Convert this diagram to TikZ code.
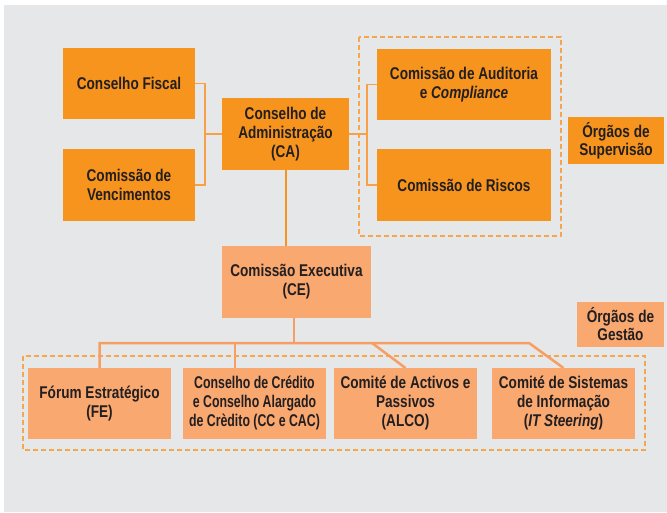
\documentclass[tikz,border=0pt]{standalone}
\usepackage{fontspec}
\setmainfont[FakeStretch=0.80]{Liberation Sans}
\newfontfamily\narrowfont[FakeStretch=0.725]{Liberation Sans}
\definecolor{bggray}{HTML}{E6E7E8}
\definecolor{darkor}{HTML}{F7941D}
\definecolor{lightor}{HTML}{F9A870}
\definecolor{lineor}{HTML}{F7A048}
\definecolor{busor}{HTML}{F79F62}
\definecolor{dashor}{HTML}{F5A64E}
\definecolor{txt}{HTML}{231F20}
\tikzset{
  dbox/.style={fill=darkor, draw=none, text=txt, align=center, inner sep=0pt,
    font=\fontsize{17}{19}\selectfont\bfseries},
  lbox/.style={fill=lightor, draw=none, text=txt, align=center, inner sep=0pt,
    font=\fontsize{17}{19}\selectfont\bfseries},
  thinline/.style={draw=lineor, line width=1.1pt},
  caline/.style={draw=darkor, line width=1.5pt},
  busline/.style={draw=busor, line width=2.5pt},
  groupbox/.style={draw=dashor, line width=1.3pt, dash pattern=on 5pt off 3pt}
}
\begin{document}
\begin{tikzpicture}[x=1pt,y=-1pt]
\useasboundingbox (0,0) rectangle (667,512);
\fill[white] (0,0) rectangle (667,512);
\fill[bggray] (4,5) rectangle (667,512);

% group boxes
\draw[groupbox] (359,37) rectangle (561,236);
\draw[groupbox] (23,356) rectangle (645,450);

% bottom connectors (drawn before boxes)
\coordinate (bus) at (296.5,343);
\coordinate (busR) at (529,343);
\coordinate (busA) at (372,343);
\coordinate (feT) at (99.5,368);
\coordinate (ccT) at (235,368);
\coordinate (alT) at (405.5,368);
\coordinate (csT) at (563.5,368);
\coordinate (ceB) at (294,318);
\draw[busline] (ceB) -- (ceB |- bus);
\draw[busline] (feT) -- (feT |- bus) -- (busR) -- (csT);
\draw[busline] (ccT) -- (ccT |- bus);
\draw[busline] (busA) -- (alT);

% nodes
\node[dbox, minimum width=132pt, minimum height=71pt] (fis) at (129,83.5) {Conselho Fiscal};
\node[dbox, minimum width=132pt, minimum height=72pt] (ven) at (129,185) {Comissão de\\Vencimentos};
\node[dbox, minimum width=127pt, minimum height=72pt] (ca) at (285.5,134) {Conselho de\\Administração\\(CA)};
\node[dbox, minimum width=174pt, minimum height=71pt] (aud) at (464,84.5) {Comissão de Auditoria\\e \textit{Compliance}};
\node[dbox, minimum width=174pt, minimum height=72pt] (ris) at (464,185) {Comissão de Riscos};
\node[dbox, minimum width=96pt, minimum height=47pt, font=\fontsize{17}{18}\selectfont\bfseries] (sup) at (616,140.5) {Órgãos de\\Supervisão};
\node[lbox, minimum width=149pt, minimum height=72pt] (ce) at (296.5,282) {Comissão Executiva\\(CE)};
\node[lbox, minimum width=87pt, minimum height=45pt, font=\fontsize{17}{18}\selectfont\bfseries] (ges) at (620.5,324.5) {Órgãos de\\Gestão};
\node[lbox, minimum width=143pt, minimum height=71pt] (fe) at (99.5,403.5) {Fórum Estratégico\\(FE)};
\node[lbox, minimum width=143pt, minimum height=71pt, font=\fontsize{17}{19}\narrowfont\bfseries] (cc) at (254.5,403.5) {Conselho de Crédito\\e Conselho Alargado\\de Crèdito (CC e CAC)};
\node[lbox, minimum width=143pt, minimum height=71pt] (alco) at (405.5,403.5) {Comité de Activos e\\Passivos\\(ALCO)};
\node[lbox, minimum width=143pt, minimum height=71pt] (csi) at (563.5,403.5) {Comité de Sistemas\\de Informação\\(\textit{IT Steering})};

% top connectors
\coordinate (brL) at (205,134);
\coordinate (brR) at (367,134);
\draw[thinline] (fis.east) -| (brL) |- (ven.east);
\draw[thinline] (brL) -- (ca.west);
\draw[thinline] (ca.east) -- (brR);
\draw[thinline] (aud.west) -| (brR) |- (ris.west);
\draw[caline] ([xshift=0.5pt]ca.south) -- ([xshift=0.5pt]ca.south |- ce.north);
\end{tikzpicture}
\end{document}
